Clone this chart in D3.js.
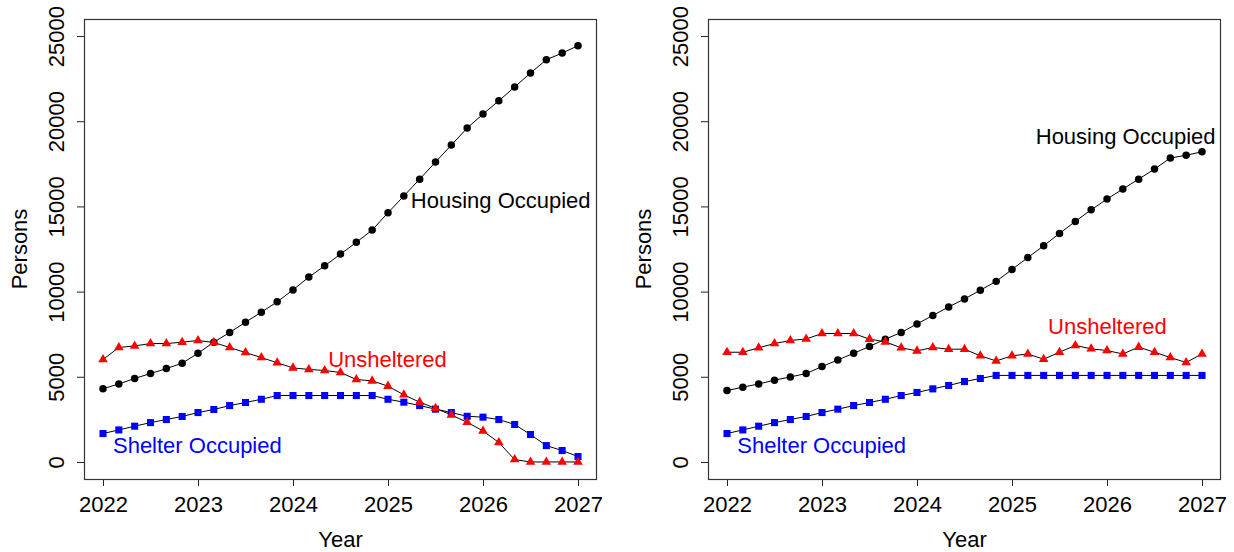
<!DOCTYPE html>
<html>
<head>
<meta charset="utf-8">
<script src="https://cdn.jsdelivr.net/npm/d3@7"></script>
<style>
  body { margin: 0; background: #fff; }
  svg text { font-family: "Liberation Sans", Arial, sans-serif; }
</style>
</head>
<body>
<svg id="chart" width="1234" height="552"></svg>
<script>
// time points: every two months from 2022 to 2027
var years = d3.range(31).map(function(i) { return 2022 + i / 6 })
var xTicks = [2022, 2023, 2024, 2025, 2026, 2027]
var yTicks = [0, 5000, 10000, 15000, 20000, 25000]

// left scenario
var housingA = [4300, 4580, 4900, 5190, 5480, 5800, 6380, 7030, 7600, 8200, 8790, 9400, 10100, 10850,
  11510, 12200, 12890, 13610, 14630, 15610, 16600, 17600, 18600, 19600, 20420, 21200, 22010, 22830, 23610, 24000, 24430]
var shelterA = [1670, 1880, 2100, 2310, 2490, 2670, 2900, 3080, 3310, 3490, 3680, 3900, 3900, 3900,
  3900, 3900, 3900, 3900, 3680, 3510, 3310, 3100, 2900, 2680, 2630, 2490, 2200, 1610, 960, 670, 320]
var unshelteredA = [6010, 6720, 6810, 6950, 6950, 7030, 7130, 7010, 6720, 6420, 6130, 5820, 5520, 5430,
  5370, 5250, 4840, 4760, 4450, 3940, 3510, 3150, 2760, 2330, 1820, 1140, 140, 0, 0, 0, 0]

// right scenario
var housingB = [4190, 4390, 4580, 4800, 4990, 5190, 5600, 5990, 6380, 6780, 7210, 7600, 8100, 8600,
  9100, 9570, 10080, 10600, 11300, 12000, 12690, 13410, 14120, 14800, 15430, 16020, 16600, 17190, 17840, 18000, 18210]
var shelterB = [1670, 1880, 2100, 2310, 2490, 2670, 2900, 3100, 3310, 3490, 3680, 3900, 4080, 4290,
  4490, 4720, 4900, 5080, 5080, 5080, 5080, 5080, 5080, 5080, 5080, 5080, 5080, 5080, 5080, 5080, 5080]
var unshelteredB = [6440, 6440, 6700, 6950, 7130, 7220, 7540, 7540, 7540, 7210, 7050, 6700, 6520, 6720,
  6620, 6620, 6230, 5930, 6230, 6340, 6030, 6440, 6840, 6640, 6540, 6340, 6740, 6440, 6130, 5840, 6340]

// label anchors, in data units (left edge, baseline)
var labelsA = [
  {text: "Housing Occupied", x: 2025.24, y: 14900, color: "#000"},
  {text: "Unsheltered", x: 2024.37, y: 5560, color: "#ff0000"},
  {text: "Shelter Occupied", x: 2022.105, y: 530, color: "#0000ff"}
]
var labelsB = [
  {text: "Housing Occupied", x: 2025.25, y: 18640, color: "#000"},
  {text: "Unsheltered", x: 2025.38, y: 7500, color: "#ff0000"},
  {text: "Shelter Occupied", x: 2022.108, y: 530, color: "#0000ff"}
]

var svg = d3.select("#chart")
svg.append("rect").attr("width", 1234).attr("height", 552).attr("fill", "#fff")

var width = 513, height = 460

function panel(left, top, housing, shelter, unsheltered, labels) {
  var g = svg.append("g").attr("transform", "translate(" + left + "," + top + ")")

  var x = d3.scaleLinear().domain([2021.8, 2027.2]).range([0, width])
  var y = d3.scaleLinear().domain([-1000, 26000]).range([height, 0])

  // y axis, labels parallel to the axis
  var ya = g.append("g").call(d3.axisLeft(y).tickValues(yTicks).tickSize(7).tickFormat(d3.format("d")))
  ya.select(".domain").remove()
  ya.selectAll("line").attr("stroke", "#222")
  ya.selectAll("text")
    .attr("x", 0).attr("y", -20.5).attr("dy", 0)
    .attr("transform", "rotate(-90)")
    .attr("text-anchor", "middle")
    .attr("font-size", 22).attr("fill", "#000")
    .style("font-family", "Liberation Sans, Arial, sans-serif")

  var xa = g.append("g").attr("transform", "translate(0," + height + ")")
    .call(d3.axisBottom(x).tickValues(xTicks).tickSize(7).tickFormat(d3.format("d")))
  xa.select(".domain").remove()
  xa.selectAll("line").attr("stroke", "#222")
  xa.selectAll("text")
    .attr("y", 32.7).attr("dy", 0)
    .attr("font-size", 22).attr("fill", "#000")
    .style("font-family", "Liberation Sans, Arial, sans-serif")

  g.append("rect")
    .attr("x", 0.5).attr("y", 0.5)
    .attr("width", width - 1).attr("height", height)
    .attr("fill", "none").attr("stroke", "#333").attr("stroke-width", 1.2)

  g.append("text")
    .attr("transform", "translate(-57," + height / 2 + ") rotate(-90)")
    .attr("text-anchor", "middle")
    .attr("font-size", 22)
    .text("Persons")

  g.append("text")
    .attr("x", width / 2).attr("y", height + 67.7)
    .attr("text-anchor", "middle")
    .attr("font-size", 22)
    .text("Year")

  var line = d3.line()
    .x(function(d) { return x(d[0]) })
    .y(function(d) { return y(d[1]) })

  function series(vals, shape, color, size) {
    var pts = years.map(function(t, i) { return [t, vals[i]] })
    g.append("path")
      .datum(pts)
      .attr("d", line)
      .attr("fill", "none")
      .attr("stroke", "#000")
      .attr("stroke-width", 1)
    g.selectAll(null)
      .data(pts)
      .enter()
      .append("path")
      .attr("transform", function(d) { return "translate(" + x(d[0]) + "," + y(d[1]) + ")" })
      .attr("d", d3.symbol().type(shape).size(size))
      .attr("fill", color)
  }

  series(housing, d3.symbolCircle, "#000", 44)
  series(shelter, d3.symbolSquare, "#0000ff", 50)
  series(unsheltered, d3.symbolTriangle, "#ff0000", 40)

  g.selectAll(null)
    .data(labels)
    .enter()
    .append("text")
    .attr("x", function(d) { return x(d.x) })
    .attr("y", function(d) { return y(d.y) })
    .attr("font-size", 22)
    .attr("fill", function(d) { return d.color })
    .text(function(d) { return d.text })
}

panel(84, 19, housingA, shelterA, unshelteredA, labelsA)
panel(708, 19, housingB, shelterB, unshelteredB, labelsB)
</script>
</body>
</html>
